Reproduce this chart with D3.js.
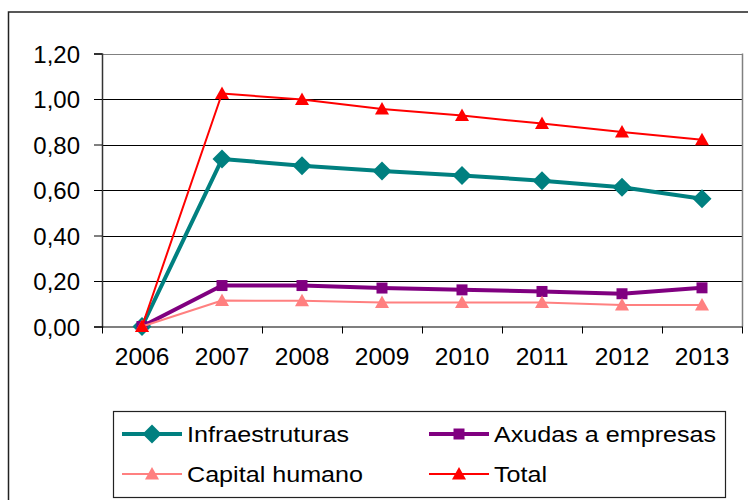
<!DOCTYPE html>
<html><head><meta charset="utf-8">
<script src="https://cdn.jsdelivr.net/npm/d3@7/dist/d3.min.js"></script>
<style>body{margin:0;background:#fff}svg{display:block}text{font-family:"Liberation Sans",Arial,sans-serif;fill:#000}</style>
</head><body><svg id="c" width="748" height="500"></svg>
<script>
const years = ["2006","2007","2008","2009","2010","2011","2012","2013"];
const infraestruturas = [0, 0.736, 0.707, 0.684, 0.664, 0.641, 0.612, 0.562];
const axudas = [0, 0.180, 0.180, 0.169, 0.161, 0.154, 0.144, 0.170];
const capital = [0, 0.114, 0.113, 0.106, 0.106, 0.106, 0.095, 0.095];
const total = [0, 1.024, 0.998, 0.956, 0.927, 0.892, 0.855, 0.821];
const yTicks = [0, 0.2, 0.4, 0.6, 0.8, 1.0, 1.2];
const seriesNames = ["Infraestruturas", "Axudas a empresas", "Capital humano", "Total"];

const svg = d3.select("#c");
const L = 102, R = 742, T = 53.5, B = 326.5;
const x = d3.scaleBand().domain(years).range([L, R]);
const y = d3.scaleLinear().domain([0, 1.2]).range([B, T]);
const fmt = v => d3.format(".2f")(v).replace(".", ",");

// outer border
svg.append("rect").attr("x", 8.5).attr("y", 12).attr("width", 760).attr("height", 520)
  .attr("fill", "none").attr("stroke", "#222").attr("stroke-width", 1.5);

// gridlines
svg.append("g").selectAll("line").data(yTicks.slice(1)).join("line")
  .attr("x1", L).attr("x2", R).attr("y1", d => Math.round(y(d)) + 0.5).attr("y2", d => Math.round(y(d)) + 0.5)
  .attr("stroke", d => d === 1.2 ? "#808080" : "#000").attr("stroke-width", 1);
// right plot border
svg.append("line").attr("x1", R + 0.5).attr("x2", R + 0.5).attr("y1", T).attr("y2", B)
  .attr("stroke", "#808080").attr("stroke-width", 1.5);

// y axis
const yAxis = d3.axisLeft(y).tickValues(yTicks).tickSize(8).tickPadding(14).tickFormat(fmt);
const gy = svg.append("g").attr("transform", `translate(${L},0)`).call(yAxis);
gy.select(".domain").attr("stroke", "#333").attr("stroke-width", 1.5);
gy.selectAll(".tick line").attr("stroke", "#000");
gy.selectAll(".tick text").attr("font-size", 24).attr("font-family", "Liberation Sans, Arial, sans-serif").attr("fill", "#000").attr("dy", "0.36em");

// x axis
const xAxis = d3.axisBottom(x).tickSize(0).tickPadding(30);
const gx = svg.append("g").attr("transform", `translate(0,${B})`).call(xAxis);
gx.select(".domain").attr("stroke", "#000").attr("stroke-width", 1.2);
gx.selectAll(".tick text").attr("font-size", 24.5).attr("font-family", "Liberation Sans, Arial, sans-serif").attr("fill", "#000").attr("dy", "0.71em").attr("y", 21);
// category boundary ticks
const bounds = years.map(d => x(d)).concat([R]);
svg.append("g").selectAll("line").data(bounds).join("line")
  .attr("x1", d => d + 0.5).attr("x2", d => d + 0.5).attr("y1", B).attr("y2", B + 7)
  .attr("stroke", "#000");

const cx = d => x(d) + x.bandwidth() / 2;
const series = [
  {name: seriesNames[0], vals: infraestruturas, color: "#008080", width: 4, kind: "diamond"},
  {name: seriesNames[1], vals: axudas, color: "#800080", width: 4, kind: "square"},
  {name: seriesNames[2], vals: capital, color: "#FF8080", width: 2, kind: "triangle"},
  {name: seriesNames[3], vals: total, color: "#FF0000", width: 2, kind: "triangle"}
];
function markerPath(sr){
  if (sr.kind === "diamond") return "M0,-9.5L9.5,0L0,9.5L-9.5,0Z";
  if (sr.kind === "square") return "M-5.5,-5.5H5.5V5.5H-5.5Z";
  return "M0,-7L7,5.5H-7Z";
}
const line = d3.line().x((d, i) => cx(years[i])).y(d => y(d));
series.forEach(sr => {
  const g = svg.append("g");
  g.append("path").attr("d", line(sr.vals)).attr("fill", "none")
    .attr("stroke", sr.color).attr("stroke-width", sr.width).attr("stroke-linejoin", "round");
  g.selectAll("path.m").data(sr.vals).join("path").attr("class", "m")
    .attr("transform", (d, i) => `translate(${cx(years[i])},${y(d)})`)
    .attr("d", markerPath(sr)).attr("fill", sr.color);
});

// legend
const lg = svg.append("g");
lg.append("rect").attr("x", 113.5).attr("y", 411.5).attr("width", 612).attr("height", 86)
  .attr("fill", "#fff").attr("stroke", "#222").attr("stroke-width", 1.2);
const lpos = [[122, 434], [429, 434], [122, 474], [429, 474]];
series.forEach((sr, i) => {
  const [lx, ly] = lpos[i];
  lg.append("line").attr("x1", lx).attr("x2", lx + 60).attr("y1", ly).attr("y2", ly)
    .attr("stroke", sr.color).attr("stroke-width", sr.width);
  lg.append("path").attr("transform", `translate(${lx + 30},${ly})`).attr("d", markerPath(sr)).attr("fill", sr.color);
  lg.append("text").attr("transform", `translate(${lx + 65},${ly + 7.5}) scale(1.17,1)`)
    .attr("font-size", 21.5).text(sr.name);
});
</script></body></html>
